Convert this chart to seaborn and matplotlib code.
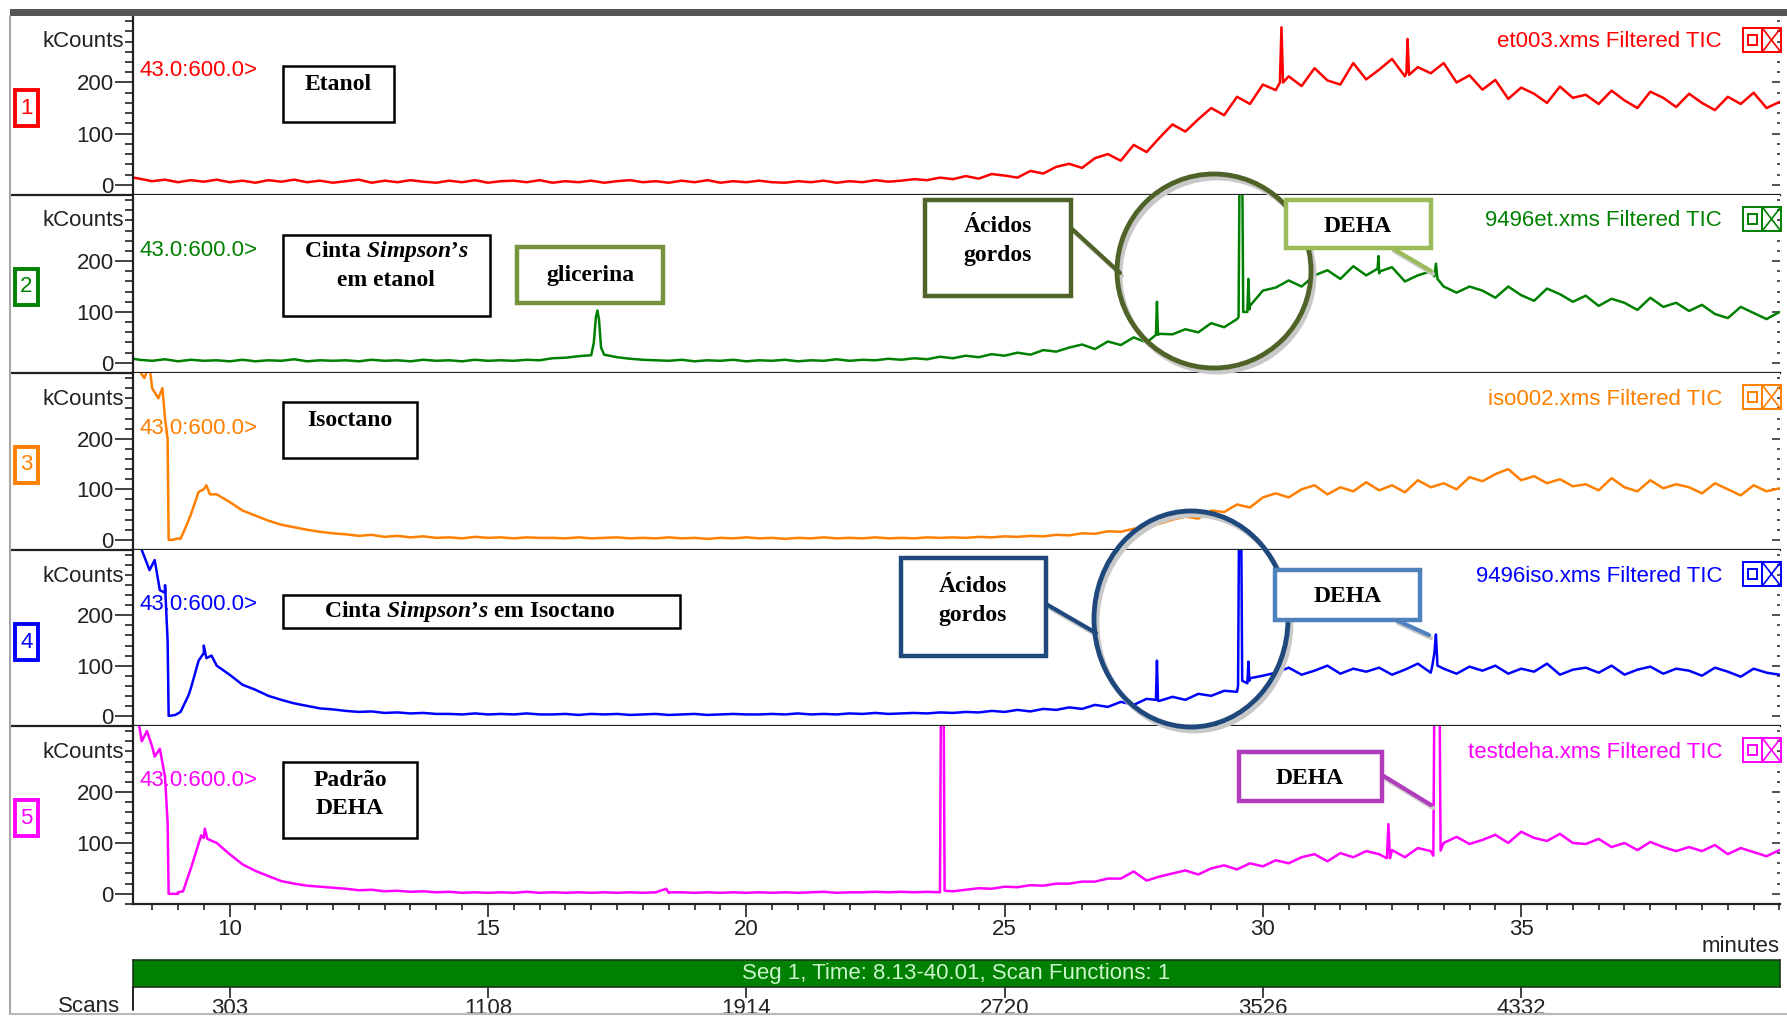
import numpy as np
import pandas as pd
import matplotlib
matplotlib.use("Agg")
import matplotlib.pyplot as plt
import seaborn as sns
from matplotlib.patches import Rectangle, Ellipse
from matplotlib.lines import Line2D
from matplotlib.ticker import MultipleLocator

#Retention time grid (minutes) at which the traces were read
grid_min = np.arange(8.25, 40.001, 0.25)

#Trace 1 - et003 (Etanol), kCounts
et003_base = [
    12, 7, 10, 5, 9, 6, 10, 5,
    8, 4, 9, 6, 10, 5, 8, 4,
    7, 10, 4, 8, 5, 9, 6, 4,
    8, 5, 9, 4, 7, 8, 5, 9,
    4, 7, 5, 8, 4, 7, 9, 5,
    7, 4, 8, 5, 9, 4, 7, 5,
    8, 5, 4, 7, 5, 8, 4, 7,
    5, 9, 6, 8, 11, 9, 14, 11,
    17, 12, 21, 18, 14, 27, 22, 35,
    41, 33, 52, 60, 47, 78, 64, 92,
    118, 104, 128, 150, 136, 172, 158, 196,
    185, 212, 193, 228, 204, 196, 238, 206,
    225, 246, 212, 230, 218, 238, 200, 214,
    186, 205, 168, 190, 178, 160, 192, 170,
    176, 158, 184, 165, 150, 182, 170, 152,
    178, 160, 146, 172, 158, 180, 150, 162]
et003_peak_t = [8.14, 30.33, 30.36, 30.39, 32.78, 32.80, 32.83]
et003_peak_v = [14, 200, 308, 200, 220, 285, 215]

#Trace 2 - 9496et (Cinta Simpson's em etanol)
et9496_base = [
    6, 4, 7, 3, 6, 4, 5, 3,
    6, 3, 5, 4, 7, 3, 5, 4,
    5, 3, 6, 4, 5, 3, 6, 4,
    5, 3, 6, 4, 5, 4, 6, 5,
    9, 10, 13, 15, 16, 11, 8, 6,
    5, 4, 6, 3, 5, 4, 6, 3,
    5, 4, 6, 3, 5, 4, 7, 4,
    6, 5, 8, 6, 9, 7, 12, 9,
    14, 11, 17, 14, 20, 16, 25, 22,
    30, 36, 27, 42, 35, 50, 40, 57,
    56, 66, 60, 78, 70, 86, 112, 142,
    148, 162, 150, 172, 182, 165, 190, 172,
    176, 188, 160, 172, 180, 150, 138, 150,
    142, 128, 150, 133, 122, 146, 135, 120,
    132, 112, 126, 118, 104, 128, 110, 118,
    102, 114, 96, 88, 110, 98, 86, 100]
et9496_peak_t = [8.14, 17.05, 17.09, 17.12, 17.15, 17.19, 27.93, 27.95, 27.97,
                 29.53, 29.55, 29.60, 29.62, 29.70, 29.72, 29.74,
                 32.22, 32.24, 32.27, 33.32, 33.35, 33.38]
et9496_peak_v = [8, 40, 90, 103, 85, 30, 55, 120, 55,
                 90, 400, 400, 100, 100, 165, 105,
                 185, 210, 180, 170, 195, 165]

#Trace 3 - iso002 (Isoctano)
iso002_base = [
    335, 300, 240, 3, 50, 100, 90, 75,
    58, 48, 38, 30, 25, 20, 16, 13,
    11, 8, 10, 6, 8, 5, 7, 4,
    5, 3, 6, 4, 5, 3, 5, 4,
    4, 3, 5, 3, 4, 5, 3, 4,
    3, 5, 3, 4, 2, 4, 3, 5,
    3, 4, 2, 4, 3, 5, 3, 4,
    3, 5, 3, 4, 3, 5, 4, 5,
    4, 6, 5, 7, 6, 8, 7, 10,
    9, 13, 12, 17, 16, 22, 24, 32,
    40, 46, 42, 58, 55, 70, 64, 84,
    92, 84, 100, 108, 90, 104, 96, 114,
    98, 108, 94, 118, 104, 112, 100, 124,
    116, 130, 140, 118, 126, 112, 120, 106,
    110, 98, 122, 104, 96, 118, 102, 110,
    104, 92, 112, 100, 88, 108, 96, 102]
iso002_peak_t = [8.15, 8.35, 8.45, 8.62, 8.70, 8.80, 8.82, 8.90, 9.05, 9.15,
                 9.40, 9.55, 9.62]
iso002_peak_v = [345, 320, 345, 280, 300, 200, 0, 0, 2, 25, 95, 108, 90]

#Trace 4 - 9496iso (Cinta Simpson's em Isoctano)
iso9496_base = [
    340, 300, 245, 5, 55, 125, 100, 82,
    62, 52, 40, 32, 25, 20, 15, 13,
    10, 8, 9, 6, 7, 5, 6, 4,
    4, 3, 5, 3, 4, 3, 5, 3,
    3, 4, 2, 4, 3, 4, 2, 3,
    4, 2, 3, 4, 2, 3, 4, 3,
    3, 4, 3, 5, 3, 4, 3, 5,
    4, 6, 4, 5, 6, 5, 7, 6,
    8, 7, 10, 8, 12, 9, 14, 12,
    17, 14, 22, 18, 28, 22, 34, 30,
    38, 32, 44, 40, 50, 48, 75, 80,
    86, 96, 82, 90, 100, 84, 94, 88,
    96, 82, 92, 104, 86, 94, 84, 98,
    90, 100, 84, 94, 88, 104, 82, 92,
    96, 86, 100, 82, 92, 98, 84, 94,
    90, 80, 96, 88, 78, 94, 86, 82]
iso9496_peak_t = [8.15, 8.30, 8.45, 8.55, 8.65, 8.75, 8.80, 8.82, 8.95, 9.05,
                  9.20, 9.40, 9.50, 9.55, 9.65, 27.93, 27.95, 27.97,
                  29.52, 29.54, 29.58, 29.60, 29.70, 29.72, 29.74,
                  33.28, 33.32, 33.35, 33.38]
iso9496_peak_v = [345, 330, 290, 310, 250, 260, 150, 0, 2, 8,
                  40, 110, 140, 115, 120, 32, 110, 30,
                  60, 400, 400, 70, 65, 108, 70,
                  100, 125, 162, 100]

#Trace 5 - testdeha (Padrao DEHA)
testdeha_base = [
    330, 290, 230, 3, 50, 110, 100, 78,
    58, 45, 35, 25, 20, 16, 14, 12,
    10, 7, 8, 5, 6, 4, 5, 3,
    4, 2, 3, 2, 3, 2, 4, 2,
    3, 2, 3, 2, 3, 2, 3, 2,
    3, 2, 3, 2, 3, 2, 3, 2,
    3, 2, 3, 2, 3, 4, 2, 3,
    3, 4, 3, 4, 3, 4, 3, 5,
    8, 11, 10, 14, 13, 17, 16, 20,
    20, 24, 24, 30, 30, 44, 26, 34,
    40, 46, 38, 50, 56, 48, 60, 54,
    66, 60, 72, 78, 64, 80, 72, 84,
    78, 86, 72, 90, 84, 100, 112, 98,
    106, 116, 100, 122, 110, 104, 118, 100,
    98, 108, 92, 100, 86, 102, 92, 84,
    92, 84, 96, 78, 90, 82, 74, 86]
testdeha_peak_t = [8.15, 8.30, 8.40, 8.55, 8.65, 8.75, 8.80, 8.82, 9.00, 9.10,
                   9.20, 9.45, 9.52, 9.57, 18.45, 18.50,
                   23.75, 23.77, 23.82, 23.84, 32.40, 32.43, 32.46,
                   33.30, 33.32, 33.42, 33.44]
testdeha_peak_v = [345, 300, 320, 270, 285, 230, 140, 0, 0, 5,
                   35, 115, 128, 108, 10, 3,
                   4, 400, 400, 6, 70, 137, 70,
                   75, 400, 400, 85]

trace_base = [et003_base, et9496_base, iso002_base, iso9496_base, testdeha_base]
trace_peak_t = [et003_peak_t, et9496_peak_t, iso002_peak_t, iso9496_peak_t, testdeha_peak_t]
trace_peak_v = [et003_peak_v, et9496_peak_v, iso002_peak_v, iso9496_peak_v, testdeha_peak_v]
trace_colors = ["#FF0000", "#008000", "#FF8000", "#0000FF", "#FF00FF"]
file_labels = ["et003.xms Filtered TIC", "9496et.xms Filtered TIC", "iso002.xms Filtered TIC",
               "9496iso.xms Filtered TIC", "testdeha.xms Filtered TIC"]

minute_ticks = [10, 15, 20, 25, 30, 35]
scan_labels = ["303", "1108", "1914", "2720", "3526", "4332"]
y_ticks = [0, 100, 200]

#Style
sns.set_style("white")
plt.rcParams["font.family"] = ["Liberation Sans", "DejaVu Sans"]
plt.rcParams["mathtext.fontset"] = "custom"
plt.rcParams["mathtext.rm"] = "Liberation Serif:bold"
plt.rcParams["mathtext.it"] = "Liberation Serif:italic:bold"
plt.rcParams["mathtext.bf"] = "Liberation Serif:bold"

W, H = 1787, 1019
fig = plt.figure(figsize=(W / 100, H / 100), dpi=100)
fig.patch.set_facecolor("white")

def fx(x):
    return x / W

def fy(y):
    return 1 - y / H

x_left, x_right = 133, 1780
panel_edges = [16, 195, 373, 550, 726, 904]
dark = "#202020"
txt = "#222222"

for i in range(5):
    top, bottom = panel_edges[i], panel_edges[i + 1]
    ph = bottom - top
    ax = fig.add_axes([fx(x_left), fy(bottom), (x_right - x_left) / W, ph / H])
    c = trace_colors[i]

    df = pd.DataFrame({"minutes": np.concatenate([grid_min, trace_peak_t[i]]),
                       "kcounts": np.concatenate([trace_base[i], trace_peak_v[i]])})
    df = df.sort_values("minutes")
    sns.lineplot(data=df, x="minutes", y="kcounts", ax=ax, color=c, lw=1.8,
                 estimator=None, legend=False)

    ax.set_xlim(8.13, 40.01)
    ax.set_ylim(-20, 330)
    ax.set_xlabel("")
    ax.set_ylabel("")
    for s in ["top", "right"]:
        ax.spines[s].set_visible(False)
    for s in ["left", "bottom"]:
        ax.spines[s].set_color(dark)
        ax.spines[s].set_linewidth(1.6)

    ax.set_yticks(y_ticks)
    ax.yaxis.set_minor_locator(MultipleLocator(20))
    ax.tick_params(axis="y", which="both", left=True, direction="out", width=1.2, colors=txt)
    ax.tick_params(axis="y", which="major", length=13, pad=1, labelsize=16)
    ax.tick_params(axis="y", which="minor", length=6)

    if i < 4:
        ax.tick_params(axis="x", which="both", bottom=False, labelbottom=False)
    else:
        ax.set_xticks(minute_ticks)
        ax.xaxis.set_minor_locator(MultipleLocator(0.5))
        ax.tick_params(axis="x", which="both", bottom=True, direction="out", width=1.2,
                       colors=txt)
        ax.tick_params(axis="x", which="major", length=9.5, pad=1, labelsize=16)
        ax.tick_params(axis="x", which="minor", length=4.5)

    sec = ax.secondary_yaxis("right")
    sec.set_yticks(y_ticks)
    sec.set_yticklabels([])
    sec.yaxis.set_minor_locator(MultipleLocator(20))
    sec.tick_params(which="both", right=True, direction="in", width=1.2, colors="#333333")
    sec.tick_params(which="major", length=6)
    sec.tick_params(which="minor", length=2)
    sec.spines["right"].set_visible(False)

    ax.text(-0.0055, 1 - 26 / ph, "kCounts", transform=ax.transAxes, ha="right",
            va="center", fontsize=16, color=txt)
    ax.text(0.004, 1 - 55 / ph, "43.0:600.0>", transform=ax.transAxes, ha="left",
            va="center", fontsize=16, color=c)
    ax.text(0.9648, 1 - 26 / ph, file_labels[i], transform=ax.transAxes, ha="right",
            va="center", fontsize=16, color=c)

    #Panel number box
    fig.add_artist(Rectangle((fx(15), fy(top + 110)), 23 / W, 36 / H, transform=fig.transFigure,
                             fill=True, fc="white", ec=c, lw=2.8))
    fig.text(fx(26.5), fy(top + 92), str(i + 1), ha="center", va="center", fontsize=16, color=c)

    #Window icons
    fig.add_artist(Rectangle((fx(1743), fy(top + 36)), 19 / W, 24 / H, transform=fig.transFigure,
                             fill=False, ec=c, lw=1.4))
    fig.add_artist(Rectangle((fx(1748), fy(top + 29)), 9 / W, 10 / H, transform=fig.transFigure,
                             fill=False, ec=c, lw=1.4))
    fig.add_artist(Rectangle((fx(1762), fy(top + 36)), 19 / W, 24 / H, transform=fig.transFigure,
                             fill=False, ec=c, lw=1.4))
    fig.add_artist(Line2D([fx(1763), fx(1780)], [fy(top + 13), fy(top + 35)],
                          transform=fig.transFigure, color=c, lw=1.2))
    fig.add_artist(Line2D([fx(1763), fx(1780)], [fy(top + 35), fy(top + 13)],
                          transform=fig.transFigure, color=c, lw=1.2))

#Separators through the left margin
for y in panel_edges[1:5]:
    fig.add_artist(Line2D([fx(10), fx(x_left)], [fy(y), fy(y)], transform=fig.transFigure,
                          color=dark, lw=1.6))

#Window frame
fig.add_artist(Rectangle((fx(10), fy(16)), (W - 10) / W, 7 / H, transform=fig.transFigure,
                         color="#555555", lw=0))
fig.add_artist(Line2D([fx(10), fx(10)], [fy(16), fy(1014)], transform=fig.transFigure,
                      color="#A8A8A8", lw=1.5))
fig.add_artist(Line2D([fx(10), fx(W)], [fy(1014), fy(1014)], transform=fig.transFigure,
                      color="#B8B8B8", lw=1.5))

fig.text(fx(1780), fy(946), "minutes", ha="right", va="center", fontsize=16, color=txt)

#Segment bar with scan axis
ax_bar = fig.add_axes([fx(x_left), fy(987), (x_right - x_left) / W, 27 / H])
ax_bar.set_facecolor("#008000")
ax_bar.set_xlim(8.13, 40.01)
ax_bar.set_ylim(0, 1)
ax_bar.set_yticks([])
ax_bar.set_xticks(minute_ticks)
ax_bar.set_xticklabels(scan_labels)
ax_bar.tick_params(axis="x", bottom=True, length=8, width=1.2, direction="out", pad=0,
                   labelsize=16, colors=txt)
for s in ax_bar.spines.values():
    s.set_color("#1a3a1a")
    s.set_linewidth(1.2)
ax_bar.text(0.5, 0.5, "Seg 1, Time: 8.13-40.01, Scan Functions: 1", transform=ax_bar.transAxes,
            ha="center", va="center", fontsize=16, color="#CCF5CC")
fig.text(fx(120), fy(1006), "Scans", ha="right", va="center", fontsize=16, color=txt)
fig.add_artist(Line2D([fx(x_left), fx(x_left)], [fy(987), fy(1010)], transform=fig.transFigure,
                      color=dark, lw=1.4))

#Annotation boxes
def note_box(x0, y0, x1, y1, ec, lw):
    fig.add_artist(Rectangle((fx(x0), fy(y1)), (x1 - x0) / W, (y1 - y0) / H,
                             transform=fig.transFigure, fc="white", ec=ec, lw=lw, zorder=5))

def note_text(x, y, s):
    fig.text(fx(x), fy(y), s, ha="center", va="center", fontsize=17, family="Liberation Serif",
             weight="bold", color="black", zorder=6)

def connector(x0, y0, x1, y1, c):
    fig.add_artist(Line2D([fx(x0 + 2), fx(x1 + 2)], [fy(y0 + 3), fy(y1 + 3)],
                          transform=fig.transFigure, color="#C8C8C8", lw=3, zorder=4))
    fig.add_artist(Line2D([fx(x0), fx(x1)], [fy(y0), fy(y1)], transform=fig.transFigure,
                          color=c, lw=3, zorder=5))

def ring(cx, cy, rx, ry, c):
    fig.add_artist(Ellipse((fx(cx + 3), fy(cy + 4)), 2 * rx / W, 2 * ry / H,
                           transform=fig.transFigure, fill=False, ec="#C8C8C8", lw=3.5, zorder=4))
    fig.add_artist(Ellipse((fx(cx), fy(cy)), 2 * rx / W, 2 * ry / H,
                           transform=fig.transFigure, fill=False, ec=c, lw=3.5, zorder=5))

note_box(283, 66, 394, 122, "black", 1.8)
note_text(338, 84, "Etanol")

note_box(283, 235, 490, 316, "black", 1.8)
note_text(386, 252, "Cinta $\\mathit{Simpson’s}$")
note_text(386, 281, "em etanol")

note_box(517, 247, 663, 303, "#77933C", 3.2)
note_text(590, 275, "glicerina")

ring(1214, 271, 97, 97, "#4F6228")
connector(1071, 228, 1120, 273, "#4F6228")
note_box(925, 200, 1071, 296, "#4F6228", 3.2)
note_text(998, 227, "Ácidos")
note_text(998, 256, "gordos")

connector(1392, 248, 1431, 271, "#9BBB59")
note_box(1286, 200, 1431, 248, "#9BBB59", 3.2)
note_text(1358, 226, "DEHA")

note_box(283, 402, 417, 458, "black", 1.8)
note_text(350, 421, "Isoctano")

note_box(283, 595, 680, 628, "black", 1.8)
note_text(470, 612, "Cinta $\\mathit{Simpson’s}$ em Isoctano")

ring(1191, 619, 97, 108, "#1F497D")
connector(1046, 604, 1096, 633, "#1F497D")
note_box(901, 558, 1046, 656, "#1F497D", 3.2)
note_text(973, 587, "Ácidos")
note_text(973, 616, "gordos")

connector(1396, 620, 1429, 635, "#4F81BD")
note_box(1275, 570, 1420, 620, "#4F81BD", 3.2)
note_text(1348, 597, "DEHA")

note_box(283, 762, 417, 838, "black", 1.8)
note_text(350, 781, "Padrão")
note_text(350, 809, "DEHA")

connector(1382, 775, 1431, 805, "#B03CBC")
note_box(1239, 752, 1382, 801, "#B03CBC", 3.2)
note_text(1310, 779, "DEHA")

fig.savefig("out.png", dpi=100)
